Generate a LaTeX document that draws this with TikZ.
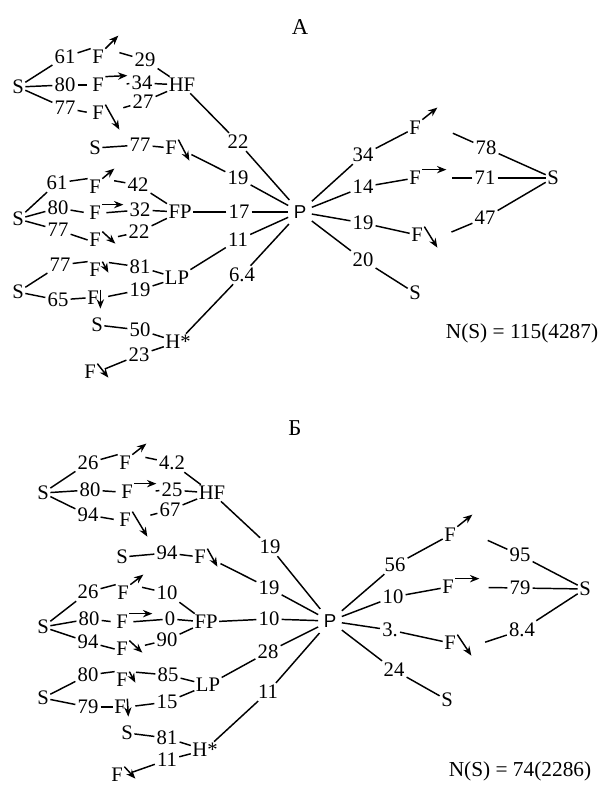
\documentclass[tikz,border=0pt]{standalone}
\usepackage{fontspec}
\setmainfont{Liberation Serif}
\newfontfamily\psans{Liberation Sans}
\usetikzlibrary{arrows.meta}

\begin{document}
\begin{tikzpicture}[x=0.75pt, y=-0.75pt,
    atom/.style={inner sep=1pt, font=\fontsize{15.5}{18}\selectfont},
    wt/.style={inner sep=1.5pt, font=\fontsize{15.5}{18}\selectfont},
    hub/.style={inner sep=4pt, font=\psans\fontsize{14}{16}\selectfont},
    ttl/.style={font=\fontsize{17}{20}\selectfont},
    cnt/.style={font=\fontsize{16}{19}\selectfont},
    bond/.style={line width=1.1pt},
    arr/.style={-{Stealth[length=7pt,width=5.5pt]}, line width=1.1pt}
  ]
  \useasboundingbox (0,0) rectangle (607,787);

  % ---------- panel A ----------
  \node[ttl] (ttlA) at (300,27) {А};
  \node[atom] (sA1) at (18,87) {S};
  \node[atom] (fA1) at (98,57) {F};
  \node[atom] (fA2) at (98,85) {F};
  \node[atom] (fA3) at (98,113) {F};
  \node[atom] (hfA) at (182,85) {HF};
  \node[atom] (sA2) at (95,148) {S};
  \node[atom] (fA4) at (171,148) {F};
  \node[atom] (sA3) at (18,219) {S};
  \node[atom] (fA5) at (95,187) {F};
  \node[atom] (fA6) at (95,213) {F};
  \node[atom] (fA7) at (95,240) {F};
  \node[atom] (fpA) at (180,212) {FP};
  \node[atom] (sA4) at (18,292) {S};
  \node[atom] (fA8) at (95,270) {F};
  \node[atom] (fA9) at (93,298) {F};
  \node[atom] (lpA) at (177,278) {LP};
  \node[atom] (sA5) at (97,325) {S};
  \node[atom] (hsA) at (178,342) {H*};
  \node[atom] (fA10) at (90,372) {F};
  \node[hub] (pA) at (300,212) {P};
  \node[atom] (fA11) at (415,128) {F};
  \node[atom] (fA12) at (415,178) {F};
  \node[atom] (fA13) at (417,235) {F};
  \node[atom] (sA6) at (415,293) {S};
  \node[atom] (sA7) at (553,178) {S};
  \node[cnt] (nA) at (522,333) {N(S) = 115(4287)};

  \node[wt] (wA1) at (65,57) {61};
  \node[wt] (wA2) at (65,85) {80};
  \node[wt] (wA3) at (65,108) {77};
  \node[wt] (wA4) at (145,60) {29};
  \node[wt] (wA5) at (142,83) {34};
  \node[wt] (wA6) at (143,102) {27};
  \node[wt] (wA7) at (238,142) {22};
  \node[wt] (wA8) at (140,145) {77};
  \node[wt] (wA9) at (238,178) {19};
  \node[wt] (wA10) at (57,183) {61};
  \node[wt] (wA11) at (58,208) {80};
  \node[wt] (wA12) at (58,230) {77};
  \node[wt] (wA13) at (138,185) {42};
  \node[wt] (wA14) at (140,210) {32};
  \node[wt] (wA15) at (139,232) {22};
  \node[wt] (wA16) at (239,212) {17};
  \node[wt] (wA17) at (60,265) {77};
  \node[wt] (wA18) at (58,300) {65};
  \node[wt] (wA19) at (140,267) {81};
  \node[wt] (wA20) at (140,290) {19};
  \node[wt] (wA21) at (238,240) {11};
  \node[wt] (wA22) at (140,330) {50};
  \node[wt] (wA23) at (139,355) {23};
  \node[wt] (wA24) at (242,275) {6.4};
  \node[wt] (wA25) at (363,155) {34};
  \node[wt] (wA26) at (363,187) {14};
  \node[wt] (wA27) at (363,223) {19};
  \node[wt] (wA28) at (363,260) {20};
  \node[wt] (wA29) at (486,148) {78};
  \node[wt] (wA30) at (485,178) {71};
  \node[wt] (wA31) at (485,218) {47};

  \draw[bond] (wA1) edge (sA1) edge (fA1.north west);
  \draw[bond] (wA2) edge (sA1) edge[shorten >=3pt] (fA2.west);
  \draw[bond] (wA3) edge (sA1) edge[shorten >=3pt] (fA3.west);
  \draw[bond] (wA4) edge (hfA) edge[shorten >=11pt] (fA1.north east);
  \draw[bond] (wA5) edge (hfA) edge[shorten >=16pt] (fA2.east);
  \draw[bond] (wA6) edge (hfA) edge[shorten >=14pt] (fA3.east);
  \draw[bond] (wA7) edge (hfA) edge (pA);
  \draw[bond] (wA8) edge (sA2) edge (fA4);
  \draw[bond] (wA9) edge[shorten >=11pt] (fA4.east) edge (pA);
  \draw[bond] (wA10) edge (sA3) edge (fA5.north west);
  \draw[bond] (wA11) edge (sA3) edge[shorten >=3pt] (fA6.west);
  \draw[bond] (wA12) edge (sA3) edge (fA7.west);
  \draw[bond] (wA13) edge (fpA) edge[shorten >=9pt] (fA5.north east);
  \draw[bond] (wA14) edge (fpA) edge[shorten >=3pt] (fA6.east);
  \draw[bond] (wA15) edge (fpA) edge[shorten >=12pt] (fA7.east);
  \draw[bond] (wA16) edge (fpA) edge (pA);
  \draw[bond] (wA17) edge (sA4) edge (fA8.north west);
  \draw[bond] (wA18) edge (sA4) edge (fA9.west);
  \draw[bond] (wA19) edge (lpA) edge[shorten >=5pt] (fA8.north east);
  \draw[bond] (wA20) edge (lpA) edge[shorten >=6pt] (fA9.east);
  \draw[bond] (wA21) edge (lpA) edge (pA);
  \draw[bond] (wA22) edge (sA5) edge (hsA);
  \draw[bond] (wA23) edge (hsA) edge[shorten >=6pt] (fA10.east);
  \draw[bond] (wA24) edge (hsA) edge (pA);
  \draw[bond] (wA25) edge (pA) edge (fA11);
  \draw[bond] (wA26) edge (pA) edge (fA12);
  \draw[bond] (wA27) edge (pA) edge (fA13);
  \draw[bond] (wA28) edge (pA) edge (sA6);
  \draw[bond] (wA29) edge (sA7) edge[shorten >=25pt] (fA11.north east);
  \draw[bond] (wA30) edge (sA7) edge[shorten >=22pt] (fA12.east);
  \draw[bond] (wA31) edge (sA7) edge[shorten >=22pt] (fA13.south east);

  \draw[arr] (fA1.north east) -- ++(13,-13);
  \draw[arr] (fA2.north east) -- ++(22,-1);
  \draw[arr] (fA3.north east) -- ++(14,25);
  \draw[arr] (fA4.north east) -- ++(11,21);
  \draw[arr] (fA5.north east) -- ++(12,-10);
  \draw[arr] (fA6.north east) -- ++(21,0);
  \draw[arr] (fA7.north east) -- ++(13,12);
  \draw[arr] (fA8.north east) -- ++(6,11);
  \draw[arr] (fA9.north east) -- ++(0,19);
  \draw[arr] (fA10.north east) -- ++(11,14);
  \draw[arr] (fA11.north east) -- ++(15,-12);
  \draw[arr] (fA12.north east) -- ++(24,0);
  \draw[arr] (fA13.north east) -- ++(13,21);

  % ---------- panel B ----------
  \node[ttl] (ttlB) at (295,428) {Б};
  \node[atom] (sB1) at (43,493) {S};
  \node[atom] (fB1) at (125,463) {F};
  \node[atom] (fB2) at (127,492) {F};
  \node[atom] (fB3) at (125,520) {F};
  \node[atom] (hfB) at (212,493) {HF};
  \node[atom] (sB2) at (122,557) {S};
  \node[atom] (fB4) at (200,557) {F};
  \node[atom] (sB3) at (43,627) {S};
  \node[atom] (fB5) at (123,593) {F};
  \node[atom] (fB6) at (122,622) {F};
  \node[atom] (fB7) at (122,649) {F};
  \node[atom] (fpB) at (206,622) {FP};
  \node[atom] (sB4) at (43,698) {S};
  \node[atom] (fB8) at (122,680) {F};
  \node[atom] (fB9) at (120,707) {F};
  \node[atom] (lpB) at (208,685) {LP};
  \node[atom] (sB5) at (127,733) {S};
  \node[atom] (hsB) at (205,750) {H*};
  \node[atom] (fB10) at (117,775) {F};
  \node[hub] (pB) at (330,621) {P};
  \node[atom] (fB11) at (450,535) {F};
  \node[atom] (fB12) at (448,587) {F};
  \node[atom] (fB13) at (450,643) {F};
  \node[atom] (sB6) at (447,700) {S};
  \node[atom] (sB7) at (585,589) {S};
  \node[cnt] (nB) at (520,771) {N(S) = 74(2286)};

  \node[wt] (wB1) at (88,463) {26};
  \node[wt] (wB2) at (90,490) {80};
  \node[wt] (wB3) at (88,515) {94};
  \node[wt] (wB4) at (172,463) {4.2};
  \node[wt] (wB5) at (172,490) {25};
  \node[wt] (wB6) at (170,510) {67};
  \node[wt] (wB7) at (270,547) {19};
  \node[wt] (wB8) at (167,553) {94};
  \node[wt] (wB9) at (269,588) {19};
  \node[wt] (wB10) at (88,592) {26};
  \node[wt] (wB11) at (89,619) {80};
  \node[wt] (wB12) at (88,642) {94};
  \node[wt] (wB13) at (167,593) {10};
  \node[wt] (wB14) at (170,619) {0};
  \node[wt] (wB15) at (167,640) {90};
  \node[wt] (wB16) at (269,619) {10};
  \node[wt] (wB17) at (88,675) {80};
  \node[wt] (wB18) at (88,707) {79};
  \node[wt] (wB19) at (168,675) {85};
  \node[wt] (wB20) at (167,702) {15};
  \node[wt] (wB21) at (268,652) {28};
  \node[wt] (wB22) at (167,738) {81};
  \node[wt] (wB23) at (167,760) {11};
  \node[wt] (wB24) at (268,692) {11};
  \node[wt] (wB25) at (395,565) {56};
  \node[wt] (wB26) at (393,597) {10};
  \node[wt] (wB27) at (390,630) {3.};
  \node[wt] (wB28) at (394,670) {24};
  \node[wt] (wB29) at (520,555) {95};
  \node[wt] (wB30) at (520,588) {79};
  \node[wt] (wB31) at (522,630) {8.4};

  \draw[bond] (wB1) edge (sB1) edge (fB1.north west);
  \draw[bond] (wB2) edge (sB1) edge[shorten >=3pt] (fB2.west);
  \draw[bond] (wB3) edge (sB1) edge[shorten >=3pt] (fB3.west);
  \draw[bond] (wB4) edge (hfB) edge[shorten >=10pt] (fB1.north east);
  \draw[bond] (wB5) edge (hfB) edge[shorten >=16pt] (fB2.east);
  \draw[bond] (wB6) edge (hfB) edge[shorten >=14pt] (fB3.east);
  \draw[bond] (wB7) edge (hfB) edge (pB);
  \draw[bond] (wB8) edge (sB2) edge (fB4);
  \draw[bond] (wB9) edge[shorten >=11pt] (fB4.east) edge (pB);
  \draw[bond] (wB10) edge (sB3) edge (fB5.north west);
  \draw[bond] (wB11) edge (sB3) edge[shorten >=3pt] (fB6.west);
  \draw[bond] (wB12) edge (sB3) edge (fB7.west);
  \draw[bond] (wB13) edge (fpB) edge[shorten >=9pt] (fB5.north east);
  \draw[bond] (wB14) edge (fpB) edge[shorten >=3pt] (fB6.east);
  \draw[bond] (wB15) edge (fpB) edge[shorten >=12pt] (fB7.east);
  \draw[bond] (wB16) edge (fpB) edge (pB);
  \draw[bond] (wB17) edge (sB4) edge (fB8.north west);
  \draw[bond] (wB18) edge (sB4) edge (fB9.west);
  \draw[bond] (wB19) edge (lpB) edge[shorten >=5pt] (fB8.north east);
  \draw[bond] (wB20) edge (lpB) edge[shorten >=6pt] (fB9.east);
  \draw[bond] (wB21) edge (lpB) edge (pB);
  \draw[bond] (wB22) edge (sB5) edge (hsB);
  \draw[bond] (wB23) edge (hsB) edge[shorten >=6pt] (fB10.east);
  \draw[bond] (wB24) edge (hsB) edge (pB);
  \draw[bond] (wB25) edge (pB) edge (fB11);
  \draw[bond] (wB26) edge (pB) edge (fB12);
  \draw[bond] (wB27) edge (pB) edge (fB13);
  \draw[bond] (wB28) edge (pB) edge (sB6);
  \draw[bond] (wB29) edge (sB7) edge[shorten >=25pt] (fB11.north east);
  \draw[bond] (wB30) edge (sB7) edge[shorten >=25pt] (fB12.east);
  \draw[bond] (wB31) edge (sB7) edge[shorten >=22pt] (fB13.south east);

  \draw[arr] (fB1.north east) -- ++(14,-11);
  \draw[arr] (fB2.north east) -- ++(22,0);
  \draw[arr] (fB3.north east) -- ++(15,25);
  \draw[arr] (fB4.north east) -- ++(10,18);
  \draw[arr] (fB5.north east) -- ++(13,-10);
  \draw[arr] (fB6.north east) -- ++(23,0);
  \draw[arr] (fB7.north east) -- ++(13,12);
  \draw[arr] (fB8.north east) -- ++(6,11);
  \draw[arr] (fB9.north east) -- ++(1,18);
  \draw[arr] (fB10.north east) -- ++(11,12);
  \draw[arr] (fB11.north east) -- ++(15,-12);
  \draw[arr] (fB12.north east) -- ++(24,0);
  \draw[arr] (fB13.north east) -- ++(14,21);
\end{tikzpicture}
\end{document}
